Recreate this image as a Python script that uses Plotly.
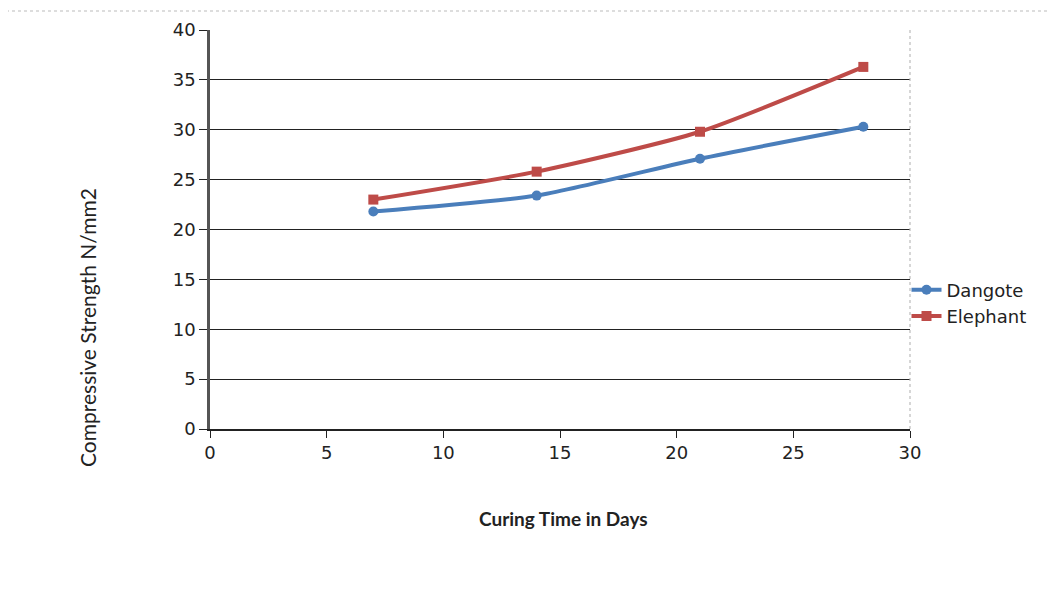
import plotly.graph_objects as go

days = [7, 14, 21, 28]
dangote = [21.8, 23.4, 27.1, 30.3]
elephant = [23.0, 25.8, 29.8, 36.3]
x_ticks = [0, 5, 10, 15, 20, 25, 30]
y_ticks = [0, 5, 10, 15, 20, 25, 30, 35, 40]

# page body has an 8px margin; plot area target: x 210-910, y 30-429 on screen
L, T, PW, PH = 202, 22, 700, 399
TICKFONT = dict(family="DejaVu Sans", size=18, color="#222")

fig = go.Figure()
fig.add_trace(go.Scatter(x=days, y=dangote, name="Dangote", mode="lines+markers",
                         line=dict(color="#4A7EBB", width=4, shape="spline", smoothing=0.6),
                         marker=dict(symbol="circle", size=10, color="#4A7EBB")))
fig.add_trace(go.Scatter(x=days, y=elephant, name="Elephant", mode="lines+markers",
                         line=dict(color="#BE4B48", width=4, shape="spline", smoothing=0.6),
                         marker=dict(symbol="square", size=10, color="#BE4B48")))

fig.update_layout(
    width=1057, height=589,
    margin=dict(l=L, r=1057 - L - PW, t=T, b=589 - T - PH),
    plot_bgcolor="white", paper_bgcolor="white",
    font=dict(family="DejaVu Sans, sans-serif", size=18, color="#222"),
    showlegend=True,
    legend=dict(x=0.995, y=(429 - 303) / PH, xanchor="left", yanchor="middle",
                font=dict(family="DejaVu Sans", size=18, color="#222"),
                bgcolor="rgba(0,0,0,0)", itemwidth=30, tracegroupgap=0),
    xaxis=dict(range=[0, 30], tickvals=x_ticks, showgrid=False, showline=True,
               linecolor="#222", linewidth=1.5, ticks="outside", ticklen=7,
               tickcolor="#222", zeroline=False, mirror=False, tickfont=TICKFONT),
    yaxis=dict(range=[0, 40], tickvals=y_ticks, showgrid=True, gridcolor="#222",
               gridwidth=1.3, showline=True, linecolor="#555", linewidth=2.5,
               ticks="outside", ticklen=8, tickcolor="#222", zeroline=False,
               tickfont=TICKFONT),
    shapes=[
        dict(type="line", xref="paper", yref="paper", x0=1, x1=1, y0=0, y1=1,
             line=dict(color="#bbbbbb", width=1.2, dash="dot")),
        dict(type="line", xref="paper", yref="paper", x0=-(L + 8) / PW, x1=(1057 - L) / PW,
             y0=1 + 19 / PH, y1=1 + 19 / PH, line=dict(color="#bbbbbb", width=1, dash="dot")),
    ],
    annotations=[
        dict(text="<b>Curing Time in Days</b>", xref="paper", yref="paper",
             x=(563 - 210) / PW, y=-(519 - 429) / PH, xanchor="center", yanchor="middle",
             showarrow=False, font=dict(family="Lato", size=19, color="#222")),
        dict(text="Compressive Strength N/mm2", xref="paper", yref="paper",
             x=-(210 - 87) / PW, y=(429 - 328) / PH, xanchor="center", yanchor="middle",
             textangle=-90, showarrow=False,
             font=dict(family="Lato", size=21, color="#222")),
    ],
)

fig.write_html("out.html")
